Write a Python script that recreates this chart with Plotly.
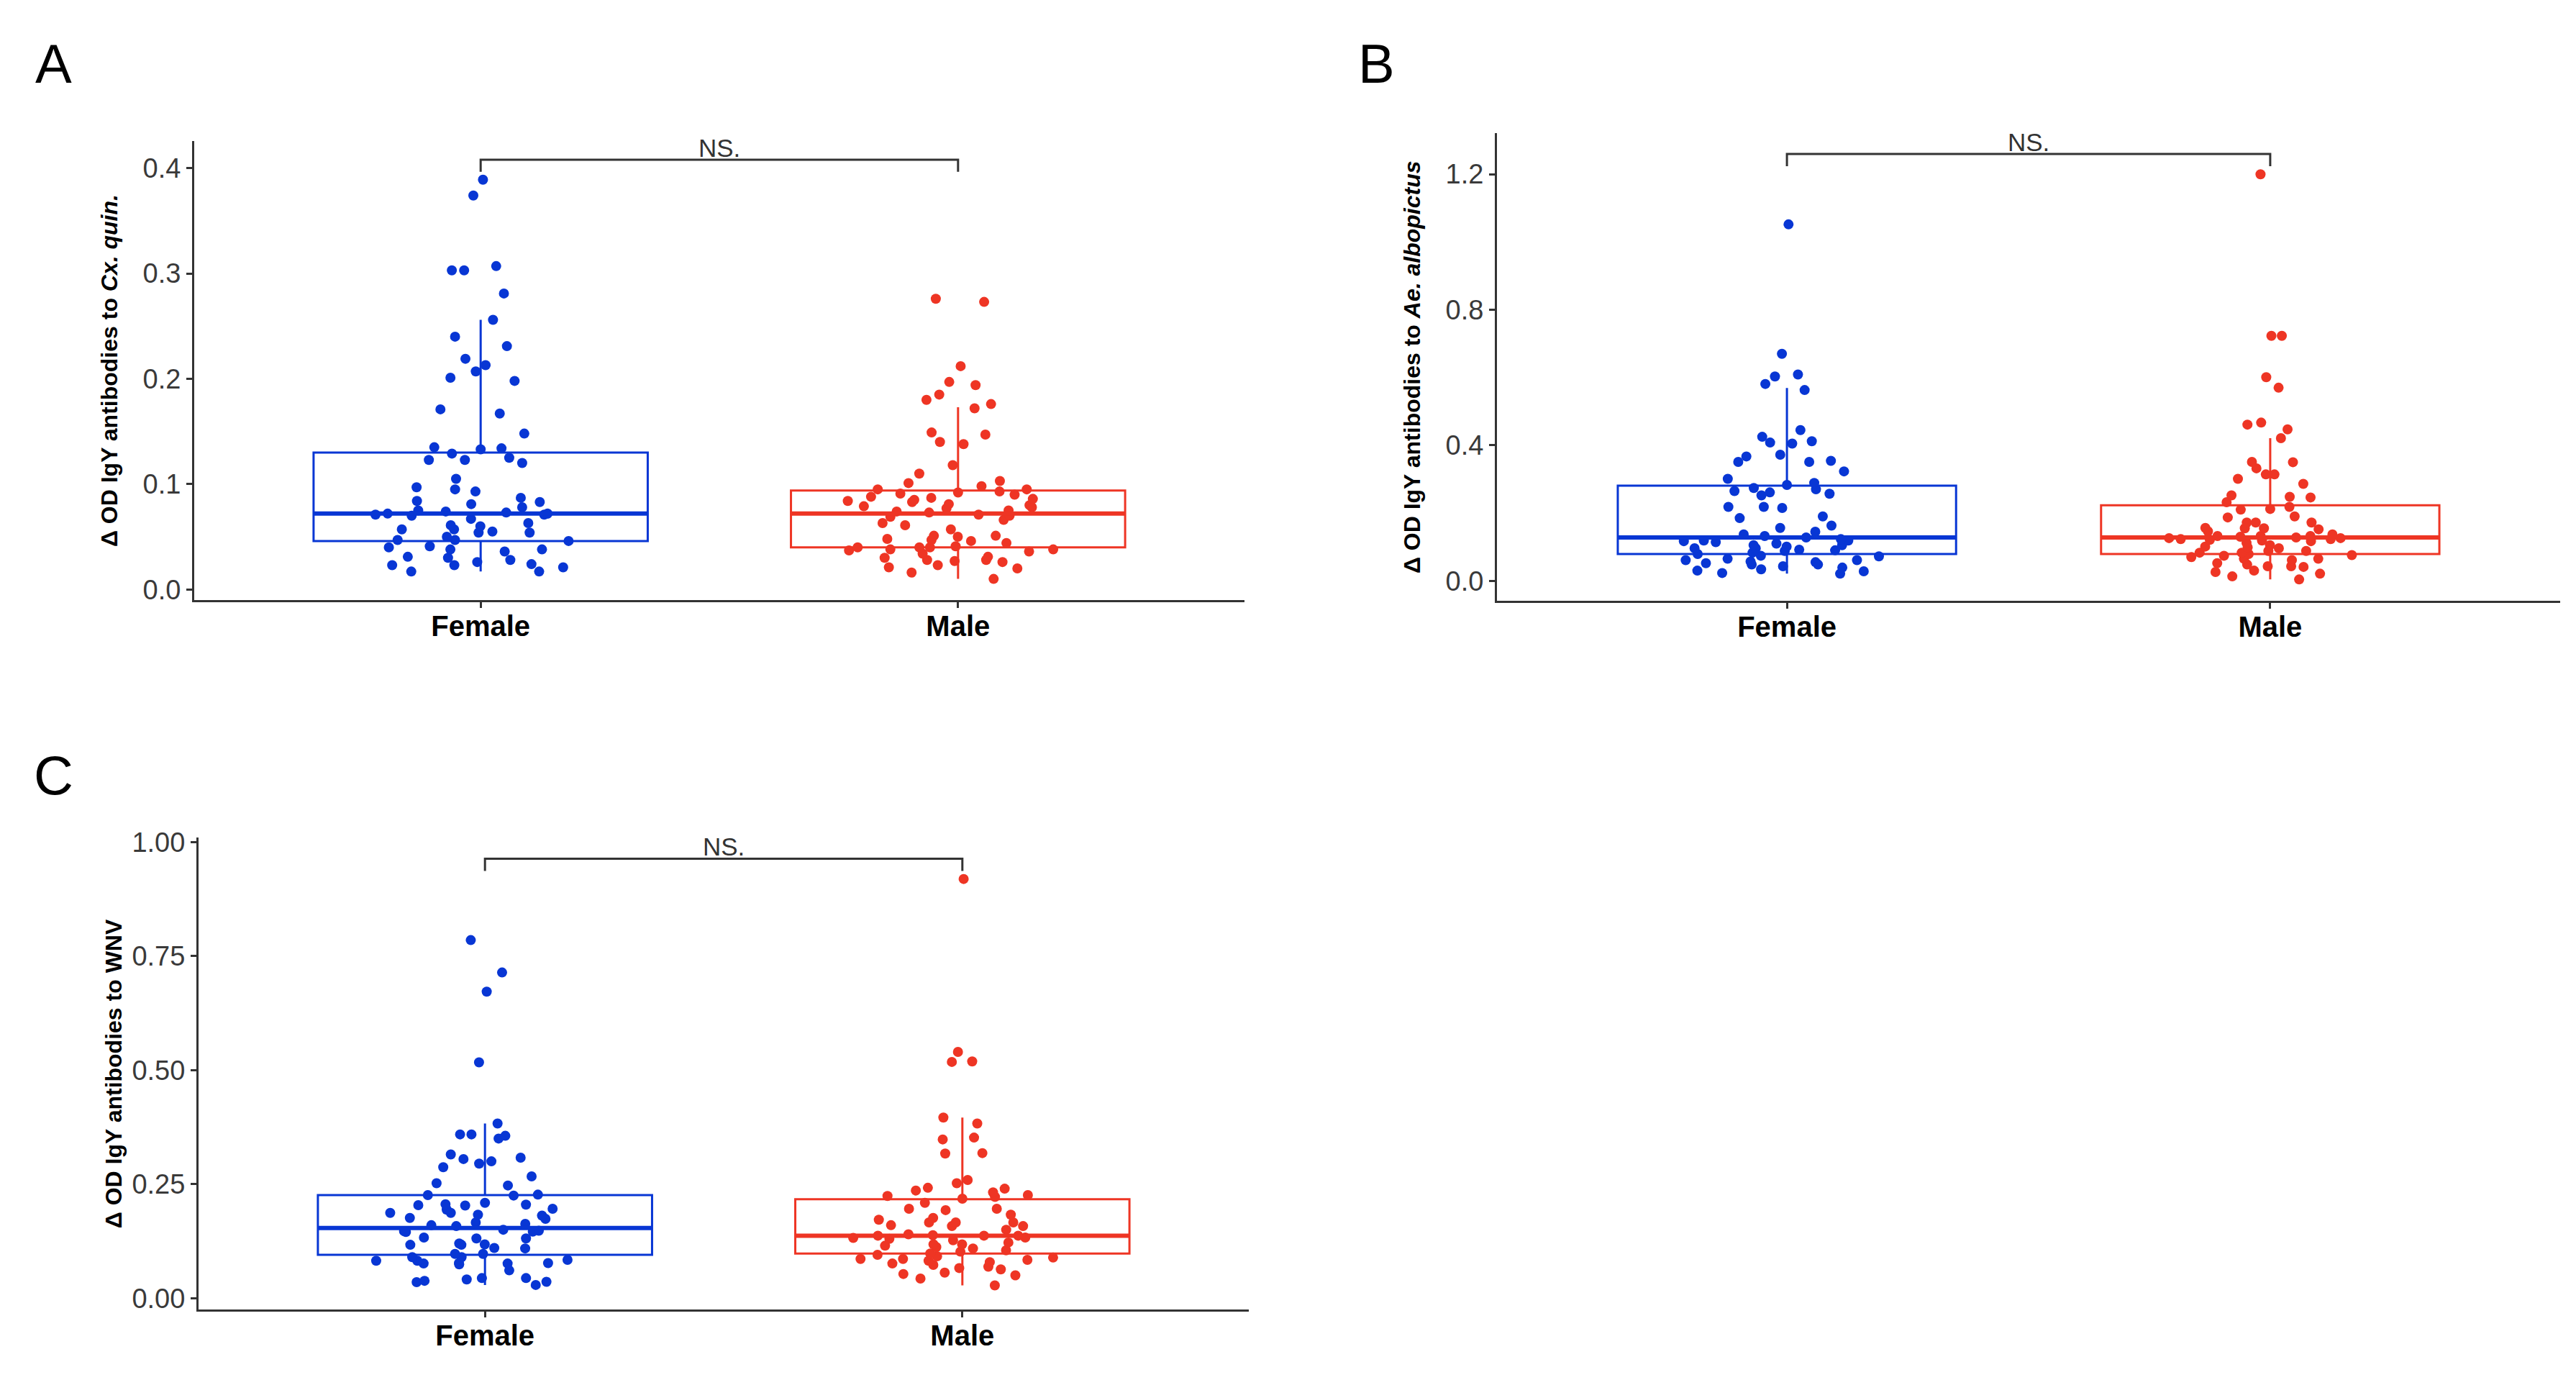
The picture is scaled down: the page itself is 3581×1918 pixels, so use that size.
import plotly.graph_objects as go

groups = ["Female", "Male"]

# ---- panel A : antibodies to Cx. quin. ----
female_a = [0.389, 0.374, 0.303, 0.303, 0.307, 0.281, 0.256, 0.231, 0.240, 0.219,
            0.213, 0.207, 0.198, 0.201, 0.171, 0.167, 0.148, 0.134, 0.135, 0.133,
            0.129, 0.125, 0.123, 0.123, 0.120, 0.105, 0.097, 0.095, 0.093, 0.087,
            0.084, 0.083, 0.081, 0.078, 0.075, 0.073, 0.071, 0.074, 0.071, 0.072,
            0.072, 0.070, 0.067, 0.063, 0.060, 0.057, 0.061, 0.057, 0.055, 0.054,
            0.054, 0.050, 0.047, 0.047, 0.046, 0.041, 0.040, 0.038, 0.038, 0.036,
            0.031, 0.030, 0.028, 0.026, 0.024, 0.023, 0.023, 0.021, 0.017, 0.017]
male_a = [0.273, 0.276, 0.212, 0.197, 0.194, 0.185, 0.180, 0.176, 0.172, 0.149,
          0.147, 0.140, 0.138, 0.118, 0.110, 0.103, 0.101, 0.098, 0.095, 0.095,
          0.093, 0.092, 0.091, 0.090, 0.088, 0.087, 0.086, 0.085, 0.084, 0.083,
          0.081, 0.080, 0.079, 0.078, 0.077, 0.075, 0.074, 0.073, 0.071, 0.070,
          0.069, 0.066, 0.063, 0.061, 0.057, 0.051, 0.051, 0.050, 0.048, 0.047,
          0.046, 0.044, 0.041, 0.040, 0.040, 0.038, 0.040, 0.038, 0.037, 0.036,
          0.034, 0.031, 0.030, 0.028, 0.028, 0.027, 0.026, 0.023, 0.021, 0.020,
          0.016, 0.010]
# box stats: q1, median, q3, lower whisker, upper whisker
stats_female_a = [0.046, 0.072, 0.130, 0.017, 0.256]
stats_male_a = [0.040, 0.072, 0.094, 0.010, 0.173]

# ---- panel B : antibodies to Ae. albopictus ----
female_b = [1.052, 0.670, 0.609, 0.603, 0.581, 0.563, 0.445, 0.425, 0.412, 0.408,
            0.405, 0.372, 0.367, 0.354, 0.351, 0.351, 0.323, 0.301, 0.289, 0.283,
            0.274, 0.270, 0.265, 0.261, 0.257, 0.252, 0.218, 0.218, 0.215, 0.190,
            0.185, 0.163, 0.156, 0.145, 0.137, 0.132, 0.128, 0.123, 0.119, 0.119,
            0.117, 0.114, 0.110, 0.105, 0.105, 0.101, 0.096, 0.096, 0.092, 0.090,
            0.088, 0.083, 0.079, 0.074, 0.072, 0.065, 0.061, 0.061, 0.057, 0.055,
            0.052, 0.048, 0.048, 0.043, 0.039, 0.034, 0.030, 0.028, 0.023, 0.021]
male_b = [1.200, 0.723, 0.723, 0.601, 0.570, 0.467, 0.461, 0.447, 0.421, 0.351,
          0.350, 0.332, 0.314, 0.314, 0.301, 0.286, 0.252, 0.248, 0.246, 0.232,
          0.218, 0.212, 0.210, 0.190, 0.187, 0.172, 0.172, 0.172, 0.156, 0.155,
          0.155, 0.152, 0.146, 0.137, 0.132, 0.132, 0.132, 0.130, 0.128, 0.126,
          0.126, 0.123, 0.123, 0.121, 0.119, 0.117, 0.112, 0.105, 0.101, 0.099,
          0.096, 0.088, 0.088, 0.083, 0.083, 0.079, 0.076, 0.074, 0.070, 0.065,
          0.065, 0.061, 0.052, 0.048, 0.043, 0.041, 0.043, 0.030, 0.026, 0.021,
          0.013, 0.004]
stats_female_b = [0.079, 0.128, 0.281, 0.021, 0.569]
stats_male_b = [0.079, 0.128, 0.223, 0.004, 0.421]

# ---- panel C : antibodies to WNV ----
female_c = [0.785, 0.714, 0.672, 0.517, 0.383, 0.359, 0.359, 0.350, 0.356, 0.315,
            0.308, 0.305, 0.295, 0.300, 0.287, 0.267, 0.252, 0.247, 0.227, 0.226,
            0.225, 0.209, 0.206, 0.205, 0.204, 0.203, 0.196, 0.194, 0.187, 0.187,
            0.183, 0.181, 0.176, 0.174, 0.166, 0.163, 0.160, 0.158, 0.150, 0.148,
            0.147, 0.146, 0.145, 0.133, 0.131, 0.131, 0.120, 0.118, 0.117, 0.117,
            0.110, 0.109, 0.097, 0.097, 0.090, 0.090, 0.084, 0.082, 0.082, 0.077,
            0.077, 0.076, 0.074, 0.076, 0.061, 0.044, 0.044, 0.041, 0.038, 0.036,
            0.035, 0.029]
male_c = [0.919, 0.540, 0.519, 0.518, 0.396, 0.383, 0.352, 0.348, 0.318, 0.317,
          0.259, 0.252, 0.242, 0.240, 0.236, 0.232, 0.226, 0.224, 0.222, 0.218,
          0.209, 0.196, 0.196, 0.193, 0.183, 0.176, 0.172, 0.166, 0.166, 0.166,
          0.160, 0.158, 0.158, 0.150, 0.140, 0.138, 0.137, 0.137, 0.137, 0.133,
          0.132, 0.130, 0.127, 0.122, 0.118, 0.118, 0.115, 0.112, 0.109, 0.105,
          0.102, 0.098, 0.095, 0.092, 0.089, 0.086, 0.086, 0.084, 0.082, 0.079,
          0.076, 0.073, 0.069, 0.066, 0.063, 0.056, 0.053, 0.050, 0.043, 0.028]
stats_female_c = [0.095, 0.154, 0.226, 0.029, 0.383]
stats_male_c = [0.098, 0.137, 0.217, 0.028, 0.396]

y_titles = ["<b>Δ OD IgY antibodies to <i>Cx. quin.</i></b>",
            "<b>Δ OD IgY antibodies to <i>Ae. albopictus</i></b>",
            "<b>Δ OD IgY antibodies to WNV</b>"]
panel_letters = ["A", "B", "C"]
ticks_a = [0.0, 0.1, 0.2, 0.3, 0.4]
ticks_b = [0.0, 0.4, 0.8, 1.2]
ticks_c = [0.0, 0.25, 0.5, 0.75, 1.0]
sig_label = "NS."

W, H = 3581, 1918
DX = -9
BLUE = "#0836d4"
RED = "#ee3524"
DARK = "#333333"
FONT = "Liberation Sans, Arial, sans-serif"

# panel geometry in pixels: x-domain, y-domain (top, bottom), y range, tick format
panels = [
    dict(x=(271, 1731), y=(175, 820), rng=[-0.0101, 0.4257], ticks=ticks_a, fmt=".1f",
         data=(female_a, male_a), stats=(stats_female_a, stats_male_a), letter=(75, 66)),
    dict(x=(2082, 3560), y=(164, 821), rng=[-0.059, 1.321], ticks=ticks_b, fmt=".1f",
         data=(female_b, male_b), stats=(stats_female_b, stats_male_b), letter=(1914, 66)),
    dict(x=(277, 1737), y=(1154, 1817), rng=[-0.025, 1.0094], ticks=ticks_c, fmt=".2f",
         data=(female_c, male_c), stats=(stats_female_c, stats_male_c), letter=(75, 1066)),
]

fig = go.Figure()
shapes = []
annotations = []
layout = {}

for i, p in enumerate(panels):
    n = "" if i == 0 else str(i + 1)
    xa, ya = "x" + n, "y" + n
    colors = [BLUE, RED]

    for j, g in enumerate(groups):
        st = p["stats"][j]
        vals = p["data"][j]
        # box from summary statistics
        fig.add_trace(go.Box(
            x=[g], q1=[st[0]], median=[st[1]], q3=[st[2]],
            lowerfence=[st[3]], upperfence=[st[4]],
            boxpoints=False, width=0.7, whiskerwidth=0,
            fillcolor="white", line=dict(color=colors[j], width=3),
            xaxis=xa, yaxis=ya, showlegend=False, hoverinfo="skip"))
        # jittered raw points (box itself hidden)
        fig.add_trace(go.Box(
            x=[g] * len(vals), y=vals, boxpoints="all", jitter=0.7, pointpos=0,
            width=0.7, fillcolor="rgba(0,0,0,0)",
            line=dict(color="rgba(0,0,0,0)", width=0),
            marker=dict(color=colors[j], size=14),
            xaxis=xa, yaxis=ya, showlegend=False))
        # thicker median line like ggplot
        shapes.append(dict(type="line", xref=xa, yref=ya, x0=j - 0.35, x1=j + 0.35,
                           y0=st[1], y1=st[1], line=dict(color=colors[j], width=6)))

    # significance bracket from the data extent
    allv = p["data"][0] + p["data"][1]
    span = max(allv) - min(allv)
    top = max(allv) + 0.05 * span
    tip = top - 0.03 * span
    shapes.append(dict(type="path", xref=xa, yref=ya,
                       path=f"M 0 {tip} L 0 {top} L 1 {top} L 1 {tip}",
                       line=dict(color=DARK, width=3)))
    annotations.append(dict(x=0.5, y=top, xref=xa, yref=ya, text=sig_label,
                            showarrow=False, yanchor="bottom", yshift=-5,
                            font=dict(family=FONT, size=35, color=DARK)))

    x0, x1 = p["x"][0] + DX, p["x"][1] + DX
    yt, yb = p["y"]
    layout["xaxis" + n] = dict(
        domain=[x0 / W, x1 / W], anchor=ya, range=[-0.6, 1.6],
        categoryorder="array", categoryarray=groups,
        showline=True, linecolor=DARK, linewidth=3,
        ticks="outside", ticklen=8, tickwidth=3, tickcolor=DARK,
        ticklabelstandoff=-9,
        tickfont=dict(family=FONT, size=40, color="black", weight="bold"),
        showgrid=False, zeroline=False)
    layout["yaxis" + n] = dict(
        domain=[1 - yb / H, 1 - yt / H], anchor=xa, range=p["rng"],
        tickvals=p["ticks"], tickformat=p["fmt"],
        showline=True, linecolor=DARK, linewidth=3,
        ticks="outside", ticklen=8, tickwidth=3, tickcolor=DARK,
        tickfont=dict(family=FONT, size=38, color="#3a3a3a"),
        showgrid=False, zeroline=False)

    # y axis title and panel letter
    annotations.append(dict(x=(x0 - 118) / W, y=1 - (yt + yb) / 2 / H, xref="paper", yref="paper",
                            text=y_titles[i], textangle=-90, showarrow=False,
                            xanchor="center", yanchor="middle",
                            font=dict(family=FONT, size=32, color="black")))
    lx, ly = p["letter"][0] + DX, p["letter"][1]
    annotations.append(dict(x=lx / W, y=1 - ly / H, xref="paper", yref="paper",
                            text=panel_letters[i], showarrow=False,
                            xanchor="center", yanchor="middle",
                            font=dict(family=FONT, size=76, color="black")))

fig.update_layout(
    width=W, height=H,
    margin=dict(l=0, r=0, t=0, b=0),
    paper_bgcolor="white", plot_bgcolor="white",
    boxmode="overlay",
    shapes=shapes, annotations=annotations,
    **layout)

fig.write_html("out.html")
